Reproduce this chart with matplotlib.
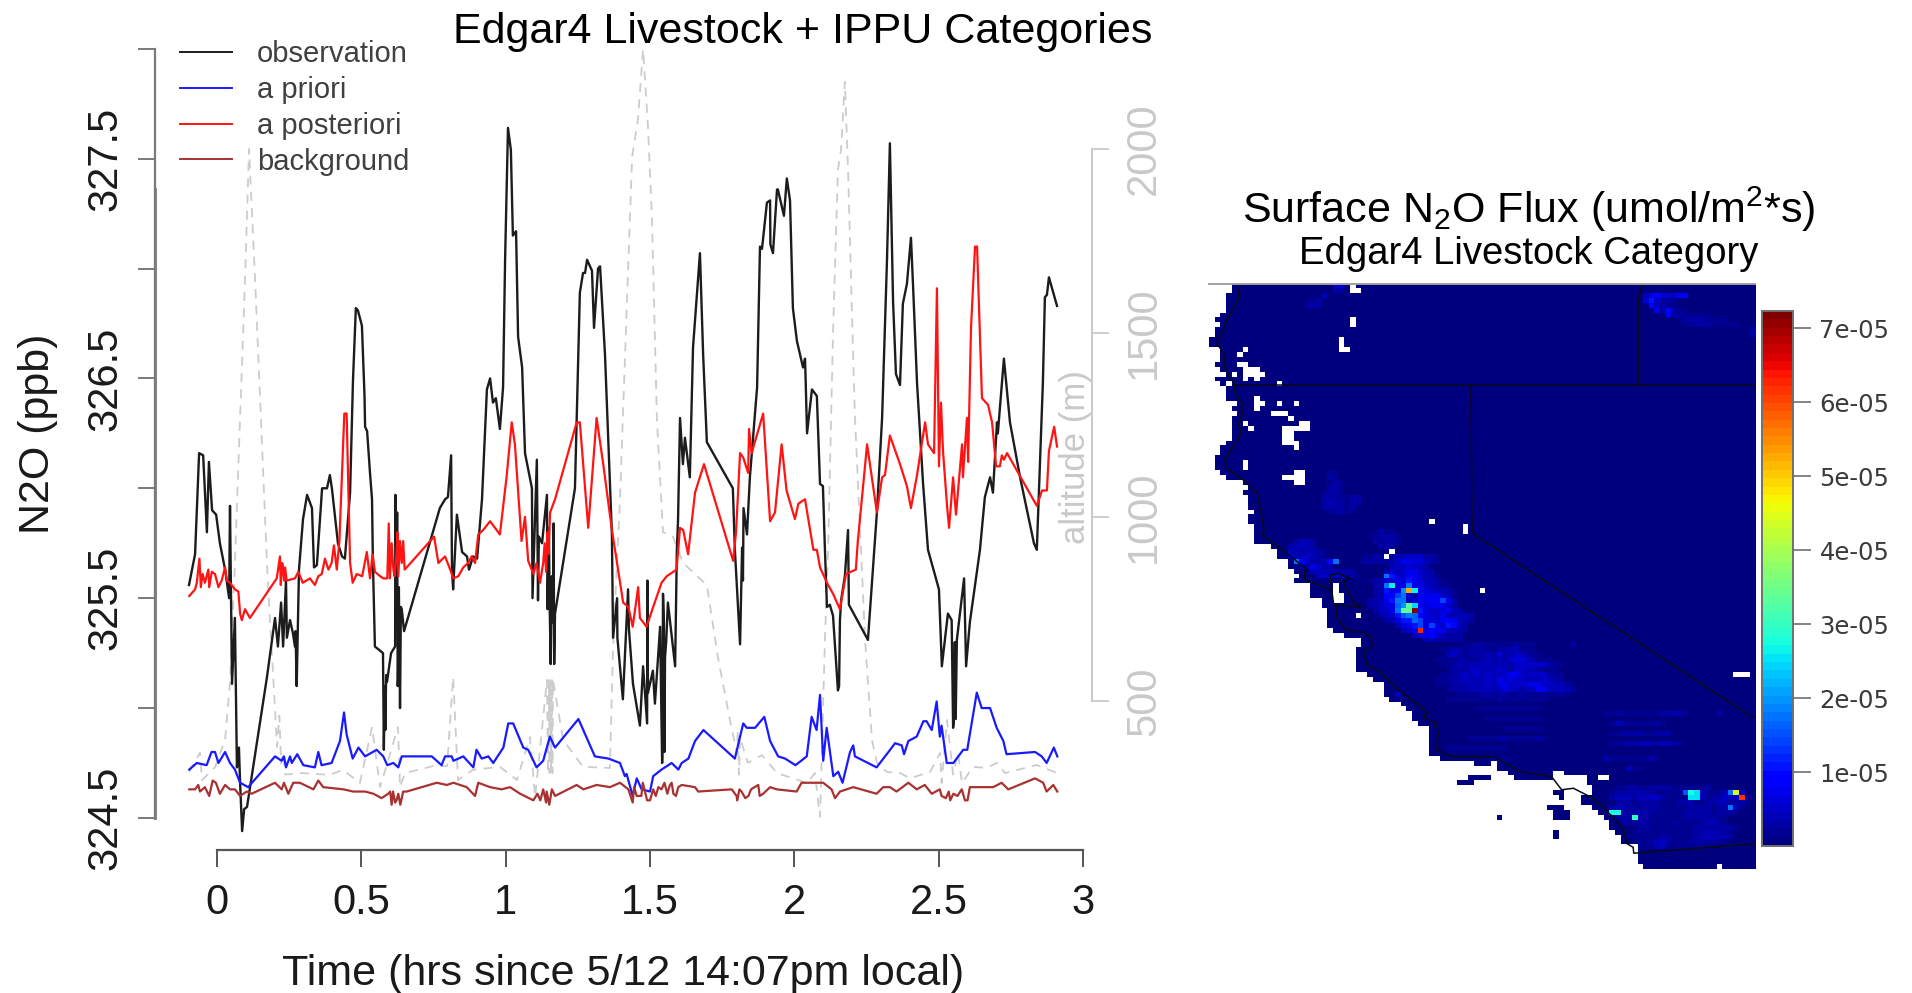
import numpy as np
import matplotlib
matplotlib.use("Agg")
import matplotlib.pyplot as plt

plt.rcParams['font.family'] = ['Liberation Sans', 'DejaVu Sans']
plt.rcParams['mathtext.default'] = 'regular'

# ---------- time series (hours, ppb) ----------
obs_t = [-0.097,-0.076,-0.062,-0.048,-0.035,-0.028,-0.017,-0.003,0.010,0.028,0.042,0.045,0.052,0.062,0.069,0.076,0.080,0.087,0.094,0.104,0.173,0.201,0.211,0.222,0.229,0.239,0.242,0.253,0.263,0.270,0.284,0.298,0.312,0.329,0.336,0.346,0.364,0.381,0.391,0.398,0.419,0.433,0.443,0.461,0.471,0.481,0.488,0.502,0.511,0.513,0.520,0.530,0.537,0.539,0.540,0.547,0.575,0.578,0.589,0.603,0.617,0.618,0.624,0.627,0.637,0.648,0.772,0.790,0.800,0.811,0.814,0.818,0.831,0.849,0.866,0.873,0.887,0.901,0.918,0.935,0.946,0.956,0.966,0.980,0.991,0.998,1.008,1.018,1.025,1.036,1.043,1.057,1.067,1.091,1.093,1.108,1.112,1.115,1.126,1.143,1.145,1.150,1.164,1.166,1.171,1.240,1.257,1.268,1.275,1.282,1.299,1.306,1.320,1.327,1.344,1.368,1.372,1.386,1.387,1.406,1.424,1.427,1.441,1.465,1.476,1.490,1.491,1.493,1.510,1.517,1.535,1.542,1.545,1.552,1.562,1.587,1.593,1.597,1.604,1.614,1.621,1.638,1.649,1.673,1.684,1.697,1.787,1.794,1.812,1.819,1.822,1.824,1.836,1.846,1.871,1.881,1.888,1.905,1.916,1.917,1.926,1.940,1.943,1.964,1.974,1.985,1.995,2.009,2.030,2.037,2.039,2.044,2.061,2.078,2.089,2.099,2.106,2.113,2.123,2.134,2.151,2.162,2.175,2.186,2.189,2.255,2.286,2.304,2.321,2.331,2.342,2.352,2.366,2.376,2.390,2.404,2.411,2.425,2.446,2.463,2.501,2.511,2.532,2.550,2.563,2.588,2.595,2.608,2.643,2.660,2.678,2.688,2.702,2.705,2.726,2.747,2.782,2.830,2.840,2.861,2.868,2.875,2.882,2.910]
obs_v = [325.56,325.70,326.16,326.15,325.80,326.12,325.90,325.88,325.75,325.63,325.50,325.92,325.11,325.41,324.73,324.82,324.66,324.44,324.54,324.55,325.14,325.41,325.28,325.48,325.28,325.58,325.32,325.40,325.34,325.28,325.63,325.86,325.97,325.91,325.64,325.65,326.00,326.00,326.06,326.00,325.75,325.69,325.68,325.98,326.49,326.82,326.81,326.74,326.42,326.28,326.26,326.07,325.95,325.78,325.67,325.28,325.25,324.81,325.12,325.25,325.28,325.97,325.89,325.13,325.46,325.35,325.91,325.95,325.96,326.15,325.63,325.54,325.88,325.71,325.69,325.63,325.69,325.68,325.95,326.45,326.50,326.39,326.41,326.27,326.46,327.04,327.64,327.54,327.15,327.17,326.69,326.55,326.16,326.00,325.50,326.13,325.49,325.78,325.75,325.97,325.45,325.82,325.39,325.84,325.43,326.00,326.89,326.98,326.98,327.04,326.99,326.73,327.00,327.01,326.61,325.79,325.32,325.50,325.32,325.04,325.54,325.36,325.11,324.92,325.19,324.93,325.58,325.07,325.17,325.02,325.37,324.75,325.52,325.23,325.48,325.19,325.72,325.85,326.32,326.11,326.23,326.05,326.64,327.07,326.61,326.21,326.00,325.72,325.29,325.73,325.58,325.91,325.79,326.05,326.46,327.10,327.09,327.30,327.31,327.11,327.07,327.36,327.36,327.24,327.41,327.31,326.82,326.67,326.55,326.59,326.50,326.25,326.45,326.42,326.02,326.01,325.72,325.46,325.47,325.42,325.08,325.49,325.60,325.81,325.47,325.31,325.89,326.32,327.04,327.57,326.85,326.52,326.47,326.84,326.93,327.14,326.93,326.48,326.02,325.72,325.54,325.19,325.43,324.91,325.31,325.59,325.19,325.39,325.72,325.96,326.05,325.98,326.30,326.25,326.59,326.30,326.05,325.75,325.72,326.48,326.87,326.88,326.96,326.83]
# repeated samples in the thick black stretches
obs_burst_t = [0.272,0.276,0.581,0.583,0.586,0.622,0.626,0.630,0.634,0.640,1.152,1.156,1.160,1.168,1.543,1.548,1.550,1.556,2.155,2.158,2.545,2.553,2.556,2.559]
obs_burst_v = [325.35,325.10,325.10,324.90,325.15,325.60,325.10,325.55,325.00,325.45,325.50,325.20,325.60,325.20,324.80,325.40,324.80,325.30,325.10,325.40,325.40,324.95,325.30,324.95]

post_t = [-0.096,-0.076,-0.070,-0.061,-0.056,-0.050,-0.042,-0.030,-0.027,-0.018,-0.007,0.005,0.016,0.028,0.034,0.045,0.062,0.074,0.080,0.086,0.097,0.114,0.207,0.218,0.221,0.230,0.241,0.270,0.282,0.297,0.322,0.339,0.351,0.363,0.374,0.386,0.397,0.405,0.415,0.424,0.441,0.449,0.461,0.470,0.484,0.503,0.519,0.530,0.539,0.547,0.565,0.576,0.590,0.595,0.599,0.611,0.622,0.634,0.640,0.657,0.752,0.767,0.790,0.805,0.819,0.836,0.853,0.870,0.882,0.894,0.905,0.922,0.946,0.980,1.003,1.021,1.032,1.055,1.067,1.078,1.096,1.107,1.119,1.130,1.148,1.154,1.171,1.246,1.257,1.286,1.315,1.338,1.367,1.407,1.425,1.440,1.459,1.465,1.488,1.511,1.540,1.558,1.592,1.604,1.615,1.632,1.656,1.687,1.788,1.798,1.812,1.823,1.840,1.843,1.852,1.892,1.916,1.933,1.956,1.973,2.002,2.014,2.037,2.066,2.078,2.089,2.113,2.134,2.158,2.179,2.213,2.220,2.252,2.286,2.304,2.314,2.331,2.366,2.390,2.404,2.425,2.453,2.463,2.484,2.494,2.501,2.508,2.515,2.529,2.536,2.550,2.560,2.581,2.584,2.598,2.602,2.612,2.626,2.633,2.650,2.671,2.685,2.699,2.712,2.719,2.726,2.737,2.840,2.858,2.875,2.882,2.900,2.910]
post_v = [325.51,325.54,325.57,325.68,325.55,325.61,325.57,325.63,325.55,325.62,325.61,325.55,325.58,325.64,325.58,325.57,325.54,325.53,325.43,325.40,325.45,325.41,325.59,325.69,325.56,325.62,325.58,325.59,325.62,325.57,325.59,325.56,325.60,325.61,325.68,325.63,325.66,325.74,325.63,325.76,326.34,326.34,325.66,325.57,325.61,325.60,325.71,325.59,325.70,325.62,325.60,325.59,325.59,325.84,325.59,325.63,325.70,325.76,325.66,325.64,325.78,325.66,325.69,325.64,325.59,325.60,325.64,325.66,325.69,325.66,325.79,325.81,325.85,325.79,326.05,326.30,326.20,325.76,325.87,325.67,325.61,325.66,325.57,325.66,325.70,325.89,325.95,326.30,326.30,325.82,326.32,326.11,325.82,325.48,325.46,325.37,325.55,325.41,325.37,325.46,325.57,325.60,325.63,325.82,325.81,325.70,325.98,326.11,325.67,325.80,326.16,326.14,326.07,326.27,326.16,326.34,325.85,325.89,326.20,325.99,325.86,325.93,325.95,325.72,325.72,325.64,325.57,325.52,325.45,325.61,325.63,325.76,326.20,325.89,326.05,326.06,326.24,326.11,326.01,325.91,326.06,326.30,326.20,326.16,326.91,326.10,326.39,326.17,325.92,325.82,326.05,325.88,326.20,326.05,326.32,326.12,326.73,327.10,327.10,326.41,326.38,326.30,326.10,326.10,326.15,326.13,326.16,325.92,325.99,325.99,326.17,326.28,326.19]
post_burst_t = [0.226,0.233,0.236,0.605,0.615,0.625,0.628,0.645,0.650,1.135,1.140,1.145]
post_burst_v = [325.66,325.58,325.64,325.75,325.60,325.80,325.60,325.76,325.63,325.75,325.62,325.80]

prior_t = [-0.096,-0.070,-0.036,-0.019,-0.007,0.005,0.028,0.045,0.062,0.080,0.108,0.201,0.224,0.232,0.239,0.253,0.259,0.278,0.299,0.339,0.351,0.362,0.397,0.426,0.440,0.449,0.470,0.490,0.513,0.553,0.576,0.590,0.611,0.628,0.640,0.744,0.778,0.790,0.813,0.819,0.853,0.888,0.899,0.917,0.940,0.957,0.992,1.009,1.026,1.061,1.078,1.107,1.130,1.153,1.171,1.252,1.309,1.356,1.396,1.413,1.419,1.440,1.454,1.471,1.500,1.511,1.540,1.575,1.598,1.610,1.633,1.656,1.685,1.794,1.812,1.823,1.835,1.864,1.896,1.916,1.944,1.968,2.004,2.043,2.060,2.077,2.089,2.100,2.112,2.135,2.152,2.167,2.193,2.204,2.210,2.285,2.326,2.349,2.372,2.380,2.395,2.424,2.447,2.458,2.476,2.493,2.504,2.510,2.528,2.551,2.585,2.599,2.632,2.649,2.678,2.701,2.724,2.735,2.834,2.857,2.874,2.899,2.911]
prior_v = [324.72,324.75,324.74,324.80,324.80,324.75,324.80,324.75,324.72,324.66,324.64,324.78,324.76,324.78,324.73,324.78,324.75,324.79,324.74,324.73,324.80,324.74,324.75,324.85,324.98,324.88,324.77,324.82,324.78,324.81,324.78,324.74,324.75,324.73,324.78,324.78,324.74,324.78,324.78,324.76,324.78,324.73,324.81,324.77,324.78,324.75,324.82,324.93,324.93,324.82,324.81,324.73,324.76,324.87,324.82,324.95,324.78,324.77,324.75,324.69,324.70,324.60,324.68,324.63,324.62,324.69,324.72,324.75,324.72,324.75,324.77,324.85,324.90,324.77,324.87,324.93,324.91,324.91,324.96,324.85,324.78,324.77,324.74,324.78,324.96,324.90,325.06,324.76,324.91,324.69,324.71,324.66,324.80,324.83,324.78,324.73,324.80,324.84,324.83,324.79,324.85,324.87,324.94,324.94,324.90,325.03,324.87,324.92,324.75,324.75,324.81,324.81,325.07,325.00,325.00,324.91,324.85,324.79,324.80,324.78,324.75,324.82,324.78]

bg_t = [-0.096,-0.076,-0.065,-0.059,-0.042,-0.027,-0.015,-0.004,0.010,0.028,0.045,0.062,0.080,0.103,0.120,0.201,0.224,0.232,0.247,0.264,0.287,0.334,0.351,0.368,0.438,0.472,0.513,0.542,0.570,0.593,0.617,0.628,0.640,0.657,0.761,0.796,0.819,0.865,0.894,0.905,0.946,0.986,1.015,1.050,1.096,1.142,1.151,1.171,1.246,1.269,1.315,1.361,1.396,1.425,1.440,1.454,1.500,1.511,1.529,1.540,1.569,1.581,1.598,1.656,1.667,1.783,1.802,1.817,1.841,1.875,1.892,1.916,1.939,2.008,2.025,2.100,2.129,2.141,2.158,2.204,2.285,2.308,2.331,2.354,2.395,2.424,2.452,2.476,2.504,2.525,2.551,2.591,2.608,2.689,2.718,2.741,2.834,2.862,2.874,2.897,2.911]
bg_v = [324.63,324.63,324.65,324.62,324.64,324.60,324.67,324.66,324.61,324.65,324.63,324.63,324.60,324.62,324.61,324.66,324.63,324.66,324.61,324.66,324.66,324.63,324.67,324.64,324.63,324.62,324.62,324.61,324.59,324.61,324.57,324.61,324.59,324.62,324.66,324.65,324.66,324.64,324.60,324.66,324.64,324.63,324.64,324.61,324.58,324.62,324.56,324.60,324.65,324.63,324.65,324.64,324.66,324.63,324.57,324.60,324.58,324.63,324.64,324.63,324.65,324.61,324.64,324.64,324.62,324.63,324.58,324.62,324.60,324.65,324.61,324.64,324.63,324.62,324.66,324.66,324.63,324.59,324.62,324.64,324.61,324.64,324.64,324.62,324.66,324.63,324.65,324.61,324.63,324.59,324.61,324.58,324.64,324.64,324.66,324.63,324.68,324.66,324.62,324.65,324.62]
bg_burst_t = [0.600,0.605,0.610,0.622,0.635,0.645,1.110,1.120,1.130,1.140,1.160,1.445,1.470,1.475,1.490,1.520,1.550,1.560,1.575,1.590,1.610,1.800,1.810,1.830,1.850,1.880,2.510,2.535,2.540,2.565,2.580,2.600]
bg_burst_v = [324.62,324.56,324.62,324.58,324.56,324.62,324.61,324.58,324.63,324.57,324.63,324.64,324.60,324.66,324.58,324.60,324.66,324.61,324.66,324.60,324.65,324.60,324.63,324.59,324.63,324.60,324.60,324.62,324.58,324.60,324.63,324.58]

alt_t = [-0.097,-0.059,-0.052,-0.007,0.028,0.045,0.062,0.097,0.111,0.132,0.149,0.173,0.184,0.194,0.208,0.216,0.222,0.229,0.236,0.294,0.391,0.436,0.495,0.537,0.565,0.627,0.634,0.651,0.748,0.797,0.818,0.835,0.887,0.980,1.039,1.084,1.102,1.143,1.147,1.150,1.152,1.155,1.157,1.160,1.162,1.164,1.199,1.268,1.361,1.372,1.396,1.420,1.438,1.458,1.476,1.493,1.507,1.524,1.545,1.580,1.614,1.697,1.735,1.777,1.801,1.804,1.808,1.812,1.839,1.888,1.940,2.044,2.071,2.089,2.106,2.117,2.134,2.151,2.162,2.175,2.186,2.200,2.210,2.245,2.269,2.286,2.321,2.366,2.401,2.470,2.505,2.510,2.529,2.550,2.567,2.581,2.619,2.667,2.702,2.730,2.840,2.910]
alt_v = [307,359,285,320,394,549,875,1644,2000,1644,1326,875,712,576,375,460,330,359,300,304,299,313,277,429,266,429,266,304,323,323,565,285,313,321,285,402,239,557,304,557,304,557,304,557,304,557,394,321,318,647,1046,1581,1978,2079,2271,2060,1807,1263,959,946,875,815,620,448,359,421,300,400,332,353,304,277,304,185,666,910,1500,1943,2000,2182,1943,1543,1272,666,394,332,307,304,290,307,359,277,448,300,359,277,321,318,332,304,326,304]

legend_labels = ['observation', 'a priori', 'a posteriori', 'background']
x_ticks = [0, 0.5, 1, 1.5, 2, 2.5, 3]
x_tick_labels = ['0', '0.5', '1', '1.5', '2', '2.5', '3']
y_ticks = [324.5, 325, 325.5, 326, 326.5, 327, 327.5, 328]
y_tick_labels = ['324.5', '', '325.5', '', '326.5', '', '327.5', '']
alt_ticks = [500, 1000, 1500, 2000]

# ---------- flux map: 97 x 119 cells ----------
N_COLS, N_ROWS = 97, 119
west_col_runs = [(4,2),(3,4),(2,1),(1,1),(2,1),(1,2),(0,2),(2,3),(1,1),(2,1),(3,1),(1,1),(2,1),(3,3),(5,1),(4,1),(5,1),(4,5),(3,1),(2,2),(1,3),(2,1),(3,1),(6,1),(7,1),(6,1),(7,3),(8,1),(7,2),(8,4),(11,1),(12,2),(14,2),(15,1),(16,1),(15,1),(18,3),(20,2),(21,4),(22,1),(24,1),(27,2),(26,5),(28,1),(29,1),(31,3),(32,1),(34,1),(35,1),(36,2),(37,1),(39,6),(41,1),(47,1),(51,1),(53,1),(54,1),(67,1),(68,2),(66,2),(68,1),(69,1),(70,1),(71,2),(72,1),(73,2),(76,4),(77,1)]
# (row first, row last, col first, col last)
no_data_cells = [(0,1,25,25),(1,1,26,26),(7,8,25,25),(11,13,23,23),(13,13,24,24),(13,13,6,6),(14,14,5,5),(16,16,5,6),(17,17,6,8),(18,18,6,9),(19,19,6,6),(19,19,8,8),(18,18,4,4),(20,20,3,3),(20,20,12,12),(23,25,8,8),(24,24,9,9),(24,24,12,12),(24,24,15,15),(26,26,11,13),(27,27,14,14),(28,28,6,6),(29,29,7,7),(28,28,16,17),(29,29,13,17),(30,31,13,14),(32,32,13,15),(33,33,15,15),(36,37,6,6),(39,39,13,14),(38,40,15,16),(48,48,39,39),(49,50,45,45),(54,54,32,32),(55,55,31,31),(61,62,22,22),(63,64,22,23),(67,67,26,26),(62,62,48,48),(79,79,93,95),(97,97,50,50),(99,99,61,62),(100,100,61,66),(100,100,69,70),(118,118,90,90)]
island_cells = [(100,100,46,49),(101,101,44,46),(103,103,61,62),(104,104,62,62),(106,106,60,62),(107,108,61,63),(108,108,51,51),(111,112,61,61)]
BASE_FLUX = 0.3
# row, first col, values in 1e-6
flux_rows = [
 (0,22,[5,5]),(1,22,[3,3]),(2,20,[4]),(3,17,[2,2,3]),(4,17,[3,3,3]),
 (2,77,[4,6,8,6,5,5,9,9]),(3,77,[6,11,5,3,3,2]),(4,78,[10,4,3,2,2]),(5,79,[7,3,9,3,2,2]),(6,81,[9,3,3,2,2,2,2,2]),(7,83,[2,3,3,3,3,2,2,2,2]),(8,84,[2,2,3,3,3,2,2,2,2,2]),(9,96,[3]),(10,96,[3]),
 (38,21,[2,2]),(39,21,[3,2]),(40,21,[2,3,2]),(41,21,[3,3,2]),(42,20,[2,3,3,2]),(43,20,[3,3,3,2,2,3,3]),(44,20,[3,4,3,3,2,3,3]),(45,20,[3,3,3,3,2,3]),(46,21,[2,3,3,2,2]),
 (50,29,[2,3,2,2]),(51,28,[2,2,3,3,3,2]),(52,29,[3,2,3,3,2]),(53,30,[3,3,3]),
 (52,15,[3,4,4,3]),(53,14,[3,4,4,4,3]),(54,14,[4,4,3,4,4,3,2]),(55,14,[5,4,4,5,4,3,2]),(55,27,[2,2,3,3,3,3,4,4,5,5,5,3,3,2]),
 (56,15,[17,9,4,3,3,4,8,17]),(56,27,[3,3,3,3,3,3,5,7,7,6,6,4,3,2]),
 (57,16,[4,3,8,6,3,3]),(57,32,[4,6,5,6,6,4,3]),
 (58,18,[5,5,4,4,3,3,3,3]),(58,31,[5,6,5,6,8,8,6,4,3]),
 (59,19,[4,6,6,5,4,3,3,2]),(59,31,[18,13,6,6,9,9,6,4,3,2]),
 (60,28,[2,3,3,7,7,8,6,12,8,7,5,4,3,2]),
 (61,29,[3,3,18,27,7,9,18,9,7,6,4,3,2,2]),
 (62,29,[3,3,12,7,8,20,52,26,8,7,6,5,4,3,2]),
 (63,29,[3,3,10,10,14,18,7,3,9,8,8,8,6,4,2]),
 (64,28,[3,3,4,9,12,17,18,5,6,8,9,10,9,14,9,3]),
 (65,28,[3,3,4,7,9,16,20,33,24,9,7,8,8,9,6,3]),
 (66,29,[3,4,6,9,17,33,33,72,13,7,6,6,7,8,5,3]),
 (67,30,[3,4,6,12,15,17,16,10,7,6,6,8,5,4,5,4,3]),
 (68,31,[3,5,7,12,12,16,14,7,7,6,8,10,9,5,4,3]),
 (69,33,[5,7,9,13,14,7,14,9,6,12,11,4,3]),
 (70,34,[4,6,8,63,9,10,9,8,5,4,3,3]),
 (71,36,[5,7,8,10,6,4,3,3,3]),(72,38,[4,4,3,3,3,3,3]),
 (73,45,[3,3,4,4,3,3,3,3,3,4,3,3,2]),(73,64,[4]),
 (74,41,[3,3,6,4,3,4,5,4,3,3,4,5,6,6,3,2,2]),
 (75,42,[7,8,5,3,4,4,5,6,5,10,5,5,8,7,4,3,2]),
 (76,40,[2,3,3,3,4,5,3,4,5,6,5,6,5,9,10,10,6,4,3,2,2]),
 (77,41,[3,3,4,6,5,6,6,7,6,7,6,6,5,8,8,9,9,9,9,5,3,2]),
 (78,42,[3,4,5,5,7,8,6,6,7,8,7,5,8,8,7,6,4,3,2,2]),
 (79,41,[3,3,4,7,8,7,9,6,8,6,7,8,12,12,8,7,9,9,9,5,3,2]),
 (80,40,[3,3,4,5,7,8,6,7,7,8,6,13,8,10,9,8,7,7,6,8,6,5,5]),
 (81,40,[2,3,3,5,5,6,6,6,7,8,7,11,12,9,8,8,11,13,13,8,8,7,7,5,3]),
 (82,42,[3,4,5,5,6,6,6,6,7,7,11,8,6,5,7,6,13,13,7,7,8,6,4]),
 (83,33,[9]),(83,44,[3,3,3,3,4,4,3,4,4,3,3,4,3,3,3,3,3,3,3,2]),
 (84,42,[2,3,3,3,3,3,3,3,3,4,3,3,3,3,3,3,3,2]),
 (86,47,[2,2,3,3,3,3,2,2,2,3,3,2]),(88,49,[3,3,2,2,3,3,3,2,2,3]),(90,52,[2,2,3,3,3,3,2]),
 (92,46,[2,3,3,2,2,5,4,3,3,2,3,3,4,2]),(94,42,[2,3,3,2,2,2,2,3,3,2,2]),(96,49,[3,3,2,2,3]),
 (87,70,[3,3,4,3,2,2,2,3,3,3,4,5,6,4,3]),(87,90,[7]),(89,71,[3,7,4,3,3,2,3,3,4,3]),
 (91,71,[3,3,4,5,4,4,3,3,5,5,4]),(93,71,[3,3,4,5,5,6,6,5,5,7,7,4,3]),
 (96,70,[6,3,3,3,3,3,3,3,6,3]),(98,74,[7,3,3]),
 (102,72,[3,3,4,4,3,3,5,5,4,4,3,3,3,2,2,2,4]),
 (103,71,[3,5,5,4,4,6,5,4,3,3,3,3,3,15,28,25,7,3,3,3,6,18,45,8]),
 (104,71,[4,6,7,6,4,6,6,8,8,4,3,3,3,3,25,25,6,3,5,4,8,7,8,62,5]),
 (105,72,[5,5,4,3,5,4,5,4,3,3,3,4,4,6,3,3,5,4,6,6,5,4,4,3]),
 (106,71,[5,6,6,5,4,3,4,5,4,3,3,3,3,3,4,4,4,4,3,4,5,18,6,3]),
 (107,71,[28,28,5,4,4,6,4,4,3,3,3,3,3,4,4,4,4,4,3,4,5,4,3]),
 (108,72,[5,4,5,30,4,4,3,3,3,3,3,3,4,4,4,5,4,4,3,3]),
 (109,73,[4,4,4,4,4,3,3,3,3,4,3,3,3,3,4,6,6,4,3]),
 (110,76,[4,4,3,3,3,3,3,3,3,3,5,5,5,5,4,4,4,3]),
 (111,75,[3,3,3,3,3,3,3,3,3,3,3,5,5,6,6,5,5,3]),
 (112,74,[3,3,3,3,3,3,4,4,3,3,3,3,5,6,6,6,6,7,4]),
 (113,76,[3,3,4,6,8,4,3,3,3,4,5,5,5,4,3,3]),
 (114,76,[3,3,3,6,7,3,3,3,3,3,3,3,3]),
]
# boundaries in map cell units (col, row)
coast_c = [5.5,5.2,4.3,3.1,2.5,1.4,2.8,2.8,4.6,4.6,6.1,5.8,5.2,5.8,4.3,2.8,3.1,5.8,8.5,9.1,9.8,9.5,13.8,17.3,17,17,21.8,22.1,22.7,22.7,24.4,27.4,28.9,28.9,27.4,28,30.4,33.6,37.5,38.8,38,40.4,40.7,40.4,42.5,50.8,55.2,60.8,62.6,64.7,67.6,67.9,72.7,73.9,74.1,75.3,75.4,97]
coast_r = [0.1,2.8,5.2,7.3,9.6,12,14.4,17.1,20.5,21.8,24.9,26.9,28.6,30,33,35.7,37.4,39.5,42.4,45.9,50,51,54.7,57.9,58.4,60.1,62.2,64.9,65.2,67.9,70.3,70.8,71.8,73.8,74.5,77.4,78.8,82.5,85.8,87.3,88,89.3,91.7,94.6,96,96.1,99.1,100.1,102.8,102.5,104.2,104.3,109.4,111.8,113.7,114.5,115.7,113.8]
bay_c = [21.8,21.5,23,25,23.8,25.6,27.1,25.6,22.7]
bay_r = [62.2,59.1,58.8,59.8,60.5,64.6,65.8,65.6,65.2]
state_lines = [
    ([4.6,97],[20.5,20.5]),
    ([46.5,46.7,96.4],[20.5,50.6,88]),
    ([76.2,76.2,77],[20.5,2.6,0.1]),
]
cbar_ticks = [1e-5,2e-5,3e-5,4e-5,5e-5,6e-5,7e-5]
cbar_labels = ['1e-05','2e-05','3e-05','4e-05','5e-05','6e-05','7e-05']
FLUX_MAX = 7.23e-5

def merged(t, v, bt, bv):
    tt = np.concatenate([t, bt])
    vv = np.concatenate([v, bv])
    order = np.argsort(tt, kind='stable')
    return tt[order], vv[order]

# ---------- layout helpers ----------
W, H = 1912, 993
fig = plt.figure(figsize=(W/100, H/100), dpi=100, facecolor='white')
def box(l, t, r, b):
    return [l/W, 1-b/H, (r-l)/W, (b-t)/H]

# ---------- left panel ----------
ax2 = fig.add_axes(box(155, 40, 1130, 850))
ax = fig.add_axes(box(155, 40, 1130, 850), sharex=ax2)
ax.set_zorder(ax2.get_zorder()+1)
ax.patch.set_visible(False)
ax.set_xlim(-0.2148, 3.1628)
ax.set_ylim(324.354, 328.04)
ax2.set_ylim(95, 2296)

LBL = '#1a1a1a'
GRAY = '#c9c9c9'
ax2.plot(alt_t, alt_v, color='#cccccc', lw=1.3, ls=(0, (5, 4)))
l1, = ax.plot(*merged(obs_t, obs_v, obs_burst_t, obs_burst_v), color='#1c1c1c', lw=1.7)
l2, = ax.plot(prior_t, prior_v, color='#1a1aff', lw=1.6)
l3, = ax.plot(*merged(post_t, post_v, post_burst_t, post_burst_v), color='#ff1414', lw=1.6)
l4, = ax.plot(*merged(bg_t, bg_v, bg_burst_t, bg_burst_v), color='#a83232', lw=1.6)

for s in ['top', 'right']:
    ax.spines[s].set_visible(False)
ax.spines['left'].set_bounds(324.5, 328)
ax.spines['left'].set_color('#7a7a7a')
ax.spines['left'].set_linewidth(1.6)
ax.spines['bottom'].set_bounds(0, 3)
ax.spines['bottom'].set_color('#555555')
ax.spines['bottom'].set_linewidth(1.6)
ax.plot([0, 0], [324.5, 327.36], transform=ax.get_yaxis_transform(), color='#8a8a8a', lw=2.2, clip_on=False)

ax.set_xticks(x_ticks)
ax.set_xticklabels(x_tick_labels, fontsize=30, color=LBL)
ax.tick_params(axis='x', length=12, width=1.4, color='#555555', pad=12)
ax.set_yticks(y_ticks)
ax.set_yticklabels(y_tick_labels, fontsize=30, color=LBL, rotation=90, va='center')
ax.tick_params(axis='y', length=12, width=1.4, color='#7a7a7a', pad=9)

ax2.xaxis.set_visible(False)
for s in ['top', 'left', 'bottom']:
    ax2.spines[s].set_visible(False)
ax2.spines['right'].set_position(('axes', (1092-155)/(1130-155)))
ax2.spines['right'].set_bounds(500, 2000)
ax2.spines['right'].set_color(GRAY)
ax2.spines['right'].set_linewidth(1.4)
ax2.yaxis.tick_right()
ax2.set_yticks(alt_ticks)
ax2.set_yticklabels([str(v) for v in alt_ticks], fontsize=30, color=GRAY, rotation=90, va='center')
ax2.tick_params(axis='y', length=12, width=1.3, color=GRAY, pad=11)

leg = ax.legend([l1, l2, l3, l4], legend_labels, loc='upper left',
                bbox_to_anchor=(180/W, 1-40/H), bbox_transform=fig.transFigure,
                frameon=False, fontsize=21, handlelength=1.78, handletextpad=0.86,
                labelspacing=0.27, borderpad=0, borderaxespad=0, labelcolor='#404040')
for h in leg.get_lines():
    h.set_linewidth(1.4)

fig.text(803/W, 1-32/H, 'Edgar4 Livestock + IPPU Categories', fontsize=31, ha='center', va='center', color='black')
fig.text(38/W, 1-434/H, 'N2O (ppb)', fontsize=31, rotation=90, ha='center', va='center', color=LBL)
fig.text(623/W, 1-974/H, 'Time (hrs since 5/12 14:07pm local)', fontsize=31, ha='center', va='center', color=LBL)
fig.text(1075/W, 1-457/H, 'altitude (m)', fontsize=25, rotation=90, ha='center', va='center', color=GRAY)

# ---------- right panel ----------
grid = np.full((N_ROWS, N_COLS), np.nan)
west = np.repeat([c for c, n in west_col_runs], [n for c, n in west_col_runs])
for r in range(min(N_ROWS, len(west))):
    grid[r, int(west[r]):] = BASE_FLUX
for r0, r1, c0, c1 in no_data_cells:
    grid[r0:r1+1, c0:c1+1] = np.nan
for r0, r1, c0, c1 in island_cells:
    grid[r0:r1+1, c0:c1+1] = BASE_FLUX
for r, c0, vals in flux_rows:
    seg = grid[r, c0:c0+len(vals)]
    v = np.array(vals[:len(seg)], dtype=float)
    # faint cells were read a little high in the valley and south
    dim = 0.6 if r >= 73 else (0.85 if r >= 57 else 1.0)
    v = np.where(v < 14, v*dim, v)
    grid[r, c0:c0+len(vals)] = np.where(np.isnan(seg), np.nan, v)
grid = grid * 1e-6

cmap = plt.get_cmap('jet', 64).copy()
cmap.set_bad('white')
mp = fig.add_axes(box(1209, 284.3, 1755.4, 869.4))
im = mp.imshow(np.ma.masked_invalid(grid), cmap=cmap, vmin=0, vmax=FLUX_MAX, aspect='auto',
               extent=(0, N_COLS, N_ROWS, 0), interpolation='nearest')
mp.plot(coast_c, coast_r, color='#0a0a14', lw=1.1)
mp.plot(bay_c, bay_r, color='#0a0a14', lw=1.1)
for cs, rs in state_lines:
    mp.plot(cs, rs, color='#0a0a14', lw=1.1)
mp.set_xlim(0, N_COLS)
mp.set_ylim(N_ROWS, 0)
mp.set_xticks([])
mp.set_yticks([])
for s in ['left', 'right', 'bottom']:
    mp.spines[s].set_visible(False)
mp.spines['top'].set_color('#a0a0a0')
mp.spines['top'].set_linewidth(1.4)

cax = fig.add_axes(box(1762, 311, 1793, 846))
cb = fig.colorbar(im, cax=cax)
cb.set_ticks(cbar_ticks)
cb.set_ticklabels(cbar_labels)
cb.ax.tick_params(length=13, width=1.2, color='#707070', pad=6, labelsize=17.5, labelcolor='#3a3a3a')
for t in cb.ax.get_yticklabels():
    t.set_family(['DejaVu Sans'])
cb.outline.set_edgecolor('#707070')
cb.outline.set_linewidth(1.4)

fig.text(1529/W, 1-209/H, 'Surface N$_2$O Flux (umol/m$^2$*s)', fontsize=31, ha='center', va='center', color='black')
fig.text(1529/W, 1-254/H, 'Edgar4 Livestock Category', fontsize=27.5, ha='center', va='center', color='black')

fig.savefig('out.png', dpi=100, facecolor='white')
